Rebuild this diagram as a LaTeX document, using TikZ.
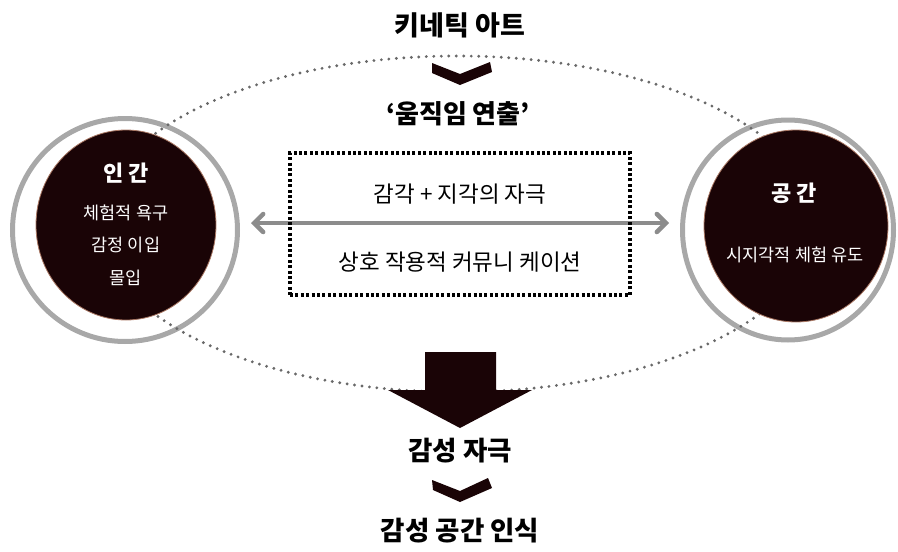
\documentclass[tikz,border=0pt]{standalone}
\usepackage{fontspec}
\setmainfont{Noto Sans CJK KR}
\usetikzlibrary{arrows.meta,shapes.geometric}
\definecolor{dk}{RGB}{26,4,6}
\definecolor{ringgray}{RGB}{168,168,168}
\definecolor{dotgray}{RGB}{105,105,105}
\definecolor{arrowgray}{RGB}{140,140,140}
\definecolor{rim}{RGB}{170,120,100}
\tikzset{
  title/.style={font=\bfseries\fontsize{27}{31}\selectfont, text=black, inner sep=0pt},
  bigtitle/.style={font=\bfseries\fontsize{26.5}{30}\selectfont, text=black, inner sep=0pt},
  bodytext/.style={font=\fontsize{22.5}{26}\selectfont, text=black, inner sep=0pt},
  ring/.style={ellipse, draw=ringgray, line width=5pt, fill=none, inner sep=0pt},
  disk/.style={ellipse, draw=rim, line width=0.8pt, fill=dk, inner sep=0pt},
  diskhead/.style={font=\bfseries\fontsize{22}{26}\selectfont, text=white, inner sep=0pt},
  disktext/.style={font=\fontsize{17.5}{32.5}\selectfont, text=white, align=center, inner sep=0pt},
  dotline/.style={draw=dotgray, line width=3.2pt, line cap=round, dash pattern=on 0pt off 7.5pt},
  dotbox/.style={draw=black, line width=3.4pt, dash pattern=on 3pt off 2.4pt},
  chev/.style={fill=dk, draw=none},
  grayarrow/.style={draw=arrowgray, line width=4.5pt, line cap=round,
     {Straight Barb[length=9pt,width=18pt,line cap=round]}-{Straight Barb[length=9pt,width=18pt,line cap=round]}}
}
\begin{document}
\begin{tikzpicture}[x=1pt,y=-1pt]
\useasboundingbox (0,0) rectangle (898,552);
% rings
\node[ring, minimum width=225pt, minimum height=223pt] (Lring) at (125,230) {};
\node[ring, minimum width=211pt, minimum height=220pt] (Rring) at (788,230) {};
% dotted ellipse
\path[dotline] (457,224) ellipse [x radius=358pt, y radius=168pt];
% disks
\node[disk, minimum width=180pt, minimum height=190pt] (Ldisk) at (126,225) {};
\node[disk, minimum width=184pt, minimum height=192pt] (Rdisk) at (796,226) {};
% disk texts
\node[diskhead] (Lhead) at (126,173) {인 간};
\node[disktext] (Ltext) at (126,245) {체험적 욕구\\감정 이입\\몰입};
\node[diskhead] (Rhead) at (794,193) {공 간};
\node[disktext] (Rtext) at (795,255) {시지각적 체험 유도};
% gray double arrow
\coordinate (la) at (251,223);
\coordinate (ra) at (669,223);
\draw[grayarrow] (la) -- (ra);
% dotted box
\node[dotbox, minimum width=340pt, minimum height=142pt, inner sep=0pt] (box) at (460,224) {};
\node[bodytext] (t1) at (460,194) {감각 + 지각의 자극};
\node[bodytext] (t2) at (460,262) {상호 작용적 커뮤니 케이션};
% top
\node[title] (kinetic) at (460,25) {키네틱 아트};
\fill[chev] (432,63) -- (460,74) -- (490,62) -- (492,72) -- (460,85) -- (432,73) -- cycle;
\node[title, font=\bfseries\fontsize{26}{30}\selectfont] (motion) at (458,114) {‘움직임 연출’};
% big arrow
\fill[dk] (425,352) -- (496,352) -- (496,390) -- (532,390) -- (460,428) -- (388,390) -- (425,390) -- cycle;
% bottom
\node[bigtitle] (stim) at (460,451) {감성 자극};
\fill[chev] (432,480) -- (460,491) -- (488,478) -- (492,488) -- (460,502) -- (433,490) -- cycle;
\node[bigtitle] (recog) at (460,531) {감성 공간 인식};
\end{tikzpicture}
\end{document}
